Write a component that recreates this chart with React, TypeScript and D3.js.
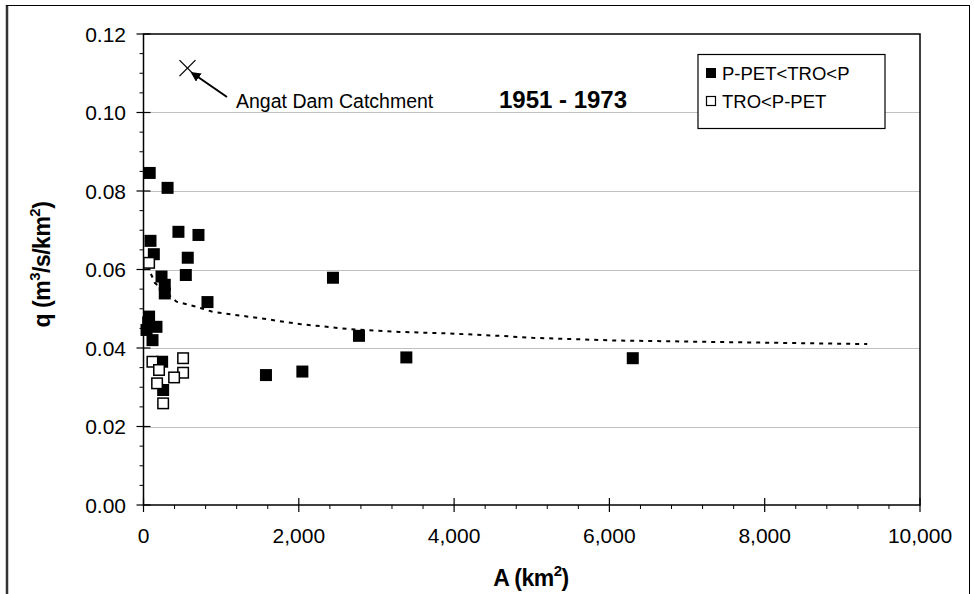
import React from "react";
import * as d3 from "d3";

const filledA = [80, 310, 450, 708, 90, 133, 570, 545, 232, 274, 274, 824, 72, 60, 167, 39, 116, 240, 253, 2440, 2775, 3385, 6301, 2046, 1577];
const filledQ = [0.0846, 0.0808, 0.0696, 0.0688, 0.0673, 0.0639, 0.063, 0.0586, 0.0582, 0.0561, 0.0539, 0.0517, 0.048, 0.0465, 0.0454, 0.0446, 0.042, 0.0365, 0.0293, 0.0579, 0.0431, 0.0376, 0.0374, 0.034, 0.0331];
const openA = [72, 115, 510, 200, 510, 394, 175, 253];
const openQ = [0.0617, 0.0365, 0.0374, 0.0344, 0.0337, 0.0325, 0.031, 0.0259];
const curveA = [50, 146, 425, 682, 892, 1496, 2012, 2655, 3299, 3942, 4586, 5010, 6088, 7165, 9320];
const curveQ = [0.061, 0.0566, 0.0518, 0.0505, 0.0492, 0.0476, 0.0461, 0.0448, 0.0441, 0.0437, 0.0431, 0.0426, 0.0419, 0.0416, 0.041];
const angatA = 566;
const angatQ = 0.1113;
const xTicks = [0, 2000, 4000, 6000, 8000, 10000];
const yTicks = [0, 0.02, 0.04, 0.06, 0.08, 0.1, 0.12];
const legendLabels = ["P-PET<TRO<P", "TRO<P-PET"];
const title = "1951 - 1973";
const annotation = "Angat Dam Catchment";

export default function App() {
  const L = 143.5, R = 920, T = 34, B = 505;
  const x = d3.scaleLinear().domain([0, 10000]).range([L, R]);
  const y = d3.scaleLinear().domain([0, 0.12]).range([B, T]);
  const font = "Arial, 'Liberation Sans', sans-serif";
  const xMinor = d3.range(0, 10001, 400).filter((v) => v % 2000 !== 0);
  const yMinor = d3.range(0, 0.1201, 0.005).filter((v) => Math.abs(Math.round(v / 0.02) * 0.02 - v) > 1e-6);
  const line = d3.line<number>().x((_, i) => x(curveA[i])).y((_, i) => y(curveQ[i]));
  const sz = 12;
  const ax = x(angatA), ay = y(angatQ);
  return (
    <svg width={974} height={594} style={{ position: "absolute", left: 0, top: 0, background: "#fff" }} fontFamily={font}>
      <defs>
        <marker id="ah" viewBox="0 0 10 10" refX="1" refY="5" markerWidth="5" markerHeight="5" orient="auto-start-reverse">
          <path d="M0,0 L10,5 L0,10 z" fill="#000" />
        </marker>
      </defs>
      {/* outer frame */}
      <line x1={7} y1={5} x2={7} y2={594} stroke="#333" strokeWidth={2.5} />
      <line x1={6} y1={5.5} x2={969.5} y2={5.5} stroke="#000" strokeWidth={1} />
      <line x1={969.5} y1={5} x2={969.5} y2={594} stroke="#000" strokeWidth={1} />
      {/* gridlines */}
      {yTicks.filter((v) => v > 0 && v < 0.12).map((v) => (
        <line key={"g" + v} x1={L} x2={R} y1={Math.round(y(v)) + 0.5} y2={Math.round(y(v)) + 0.5} stroke="#c0c0c0" strokeWidth={1} />
      ))}
      {/* plot border */}
      <rect x={L} y={T} width={R - L} height={B - T} fill="none" stroke="#000" strokeWidth={1.5} />
      {/* y ticks */}
      {yTicks.map((v) => (
        <g key={"yt" + v}>
          <line x1={L - 7} x2={L + 7} y1={y(v)} y2={y(v)} stroke="#000" strokeWidth={1.2} />
          <text x={126} y={y(v) + 7.5} fontSize={21} textAnchor="end">{v.toFixed(2)}</text>
        </g>
      ))}
      {yMinor.map((v) => (
        <line key={"ym" + v} x1={L - 4} x2={L} y1={y(v)} y2={y(v)} stroke="#000" strokeWidth={1} />
      ))}
      {/* x ticks */}
      {xTicks.map((v) => (
        <g key={"xt" + v}>
          <line x1={x(v)} x2={x(v)} y1={B - 7} y2={B + 7} stroke="#000" strokeWidth={1.2} />
          <text x={x(v)} y={543} fontSize={21} textAnchor="middle">{d3.format(",")(v)}</text>
        </g>
      ))}
      {xMinor.map((v) => (
        <line key={"xm" + v} x1={x(v)} x2={x(v)} y1={B} y2={B + 4} stroke="#000" strokeWidth={1} />
      ))}
      {/* axis titles */}
      <text x={531} y={586} fontSize={23} fontWeight="bold" textAnchor="middle" letterSpacing={-0.5}>
        A (km<tspan dy={-10} fontSize={15}>2</tspan><tspan dy={10}>)</tspan>
      </text>
      <text transform={`translate(50,${(T + B) / 2 - 5}) rotate(-90)`} fontSize={23} fontWeight="bold" textAnchor="middle" letterSpacing={-0.5}>
        q (m<tspan dy={-10} fontSize={15}>3</tspan><tspan dy={10}>/s/km</tspan><tspan dy={-10} fontSize={15}>2</tspan><tspan dy={10}>)</tspan>
      </text>
      {/* fitted curve */}
      <path d={line(curveA) || ""} fill="none" stroke="#000" strokeWidth={2} strokeDasharray="4,5" />
      {/* filled squares */}
      {filledA.map((a, i) => (
        <rect key={"f" + i} x={x(a) - sz / 2} y={y(filledQ[i]) - sz / 2} width={sz} height={sz} fill="#000" />
      ))}
      {/* open squares */}
      {openA.map((a, i) => (
        <rect key={"o" + i} x={x(a) - sz / 2 + 0.75} y={y(openQ[i]) - sz / 2 + 0.75} width={sz - 1.5} height={sz - 1.5} fill="#fff" stroke="#000" strokeWidth={1.5} />
      ))}
      {/* Angat cross */}
      <line x1={ax - 8} y1={ay - 8} x2={ax + 8} y2={ay + 8} stroke="#000" strokeWidth={1.3} />
      <line x1={ax - 8} y1={ay + 8} x2={ax + 8} y2={ay - 8} stroke="#000" strokeWidth={1.3} />
      <line x1={227} y1={97} x2={198} y2={77} stroke="#000" strokeWidth={2} markerEnd="url(#ah)" />
      <text x={236} y={108} fontSize={19.5}>{annotation}</text>
      {/* title */}
      <text x={563} y={108} fontSize={24} fontWeight="bold" textAnchor="middle">{title}</text>
      {/* legend */}
      <rect x={698} y={54.5} width={187} height={74} fill="#fff" stroke="#000" strokeWidth={1.2} />
      <rect x={706} y={68} width={10} height={10} fill="#000" />
      <text x={722} y={80} fontSize={18.5}>{legendLabels[0]}</text>
      <rect x={706.5} y={96.5} width={9} height={9} fill="#fff" stroke="#000" strokeWidth={1.2} />
      <text x={722} y={108} fontSize={18.5}>{legendLabels[1]}</text>
    </svg>
  );
}
